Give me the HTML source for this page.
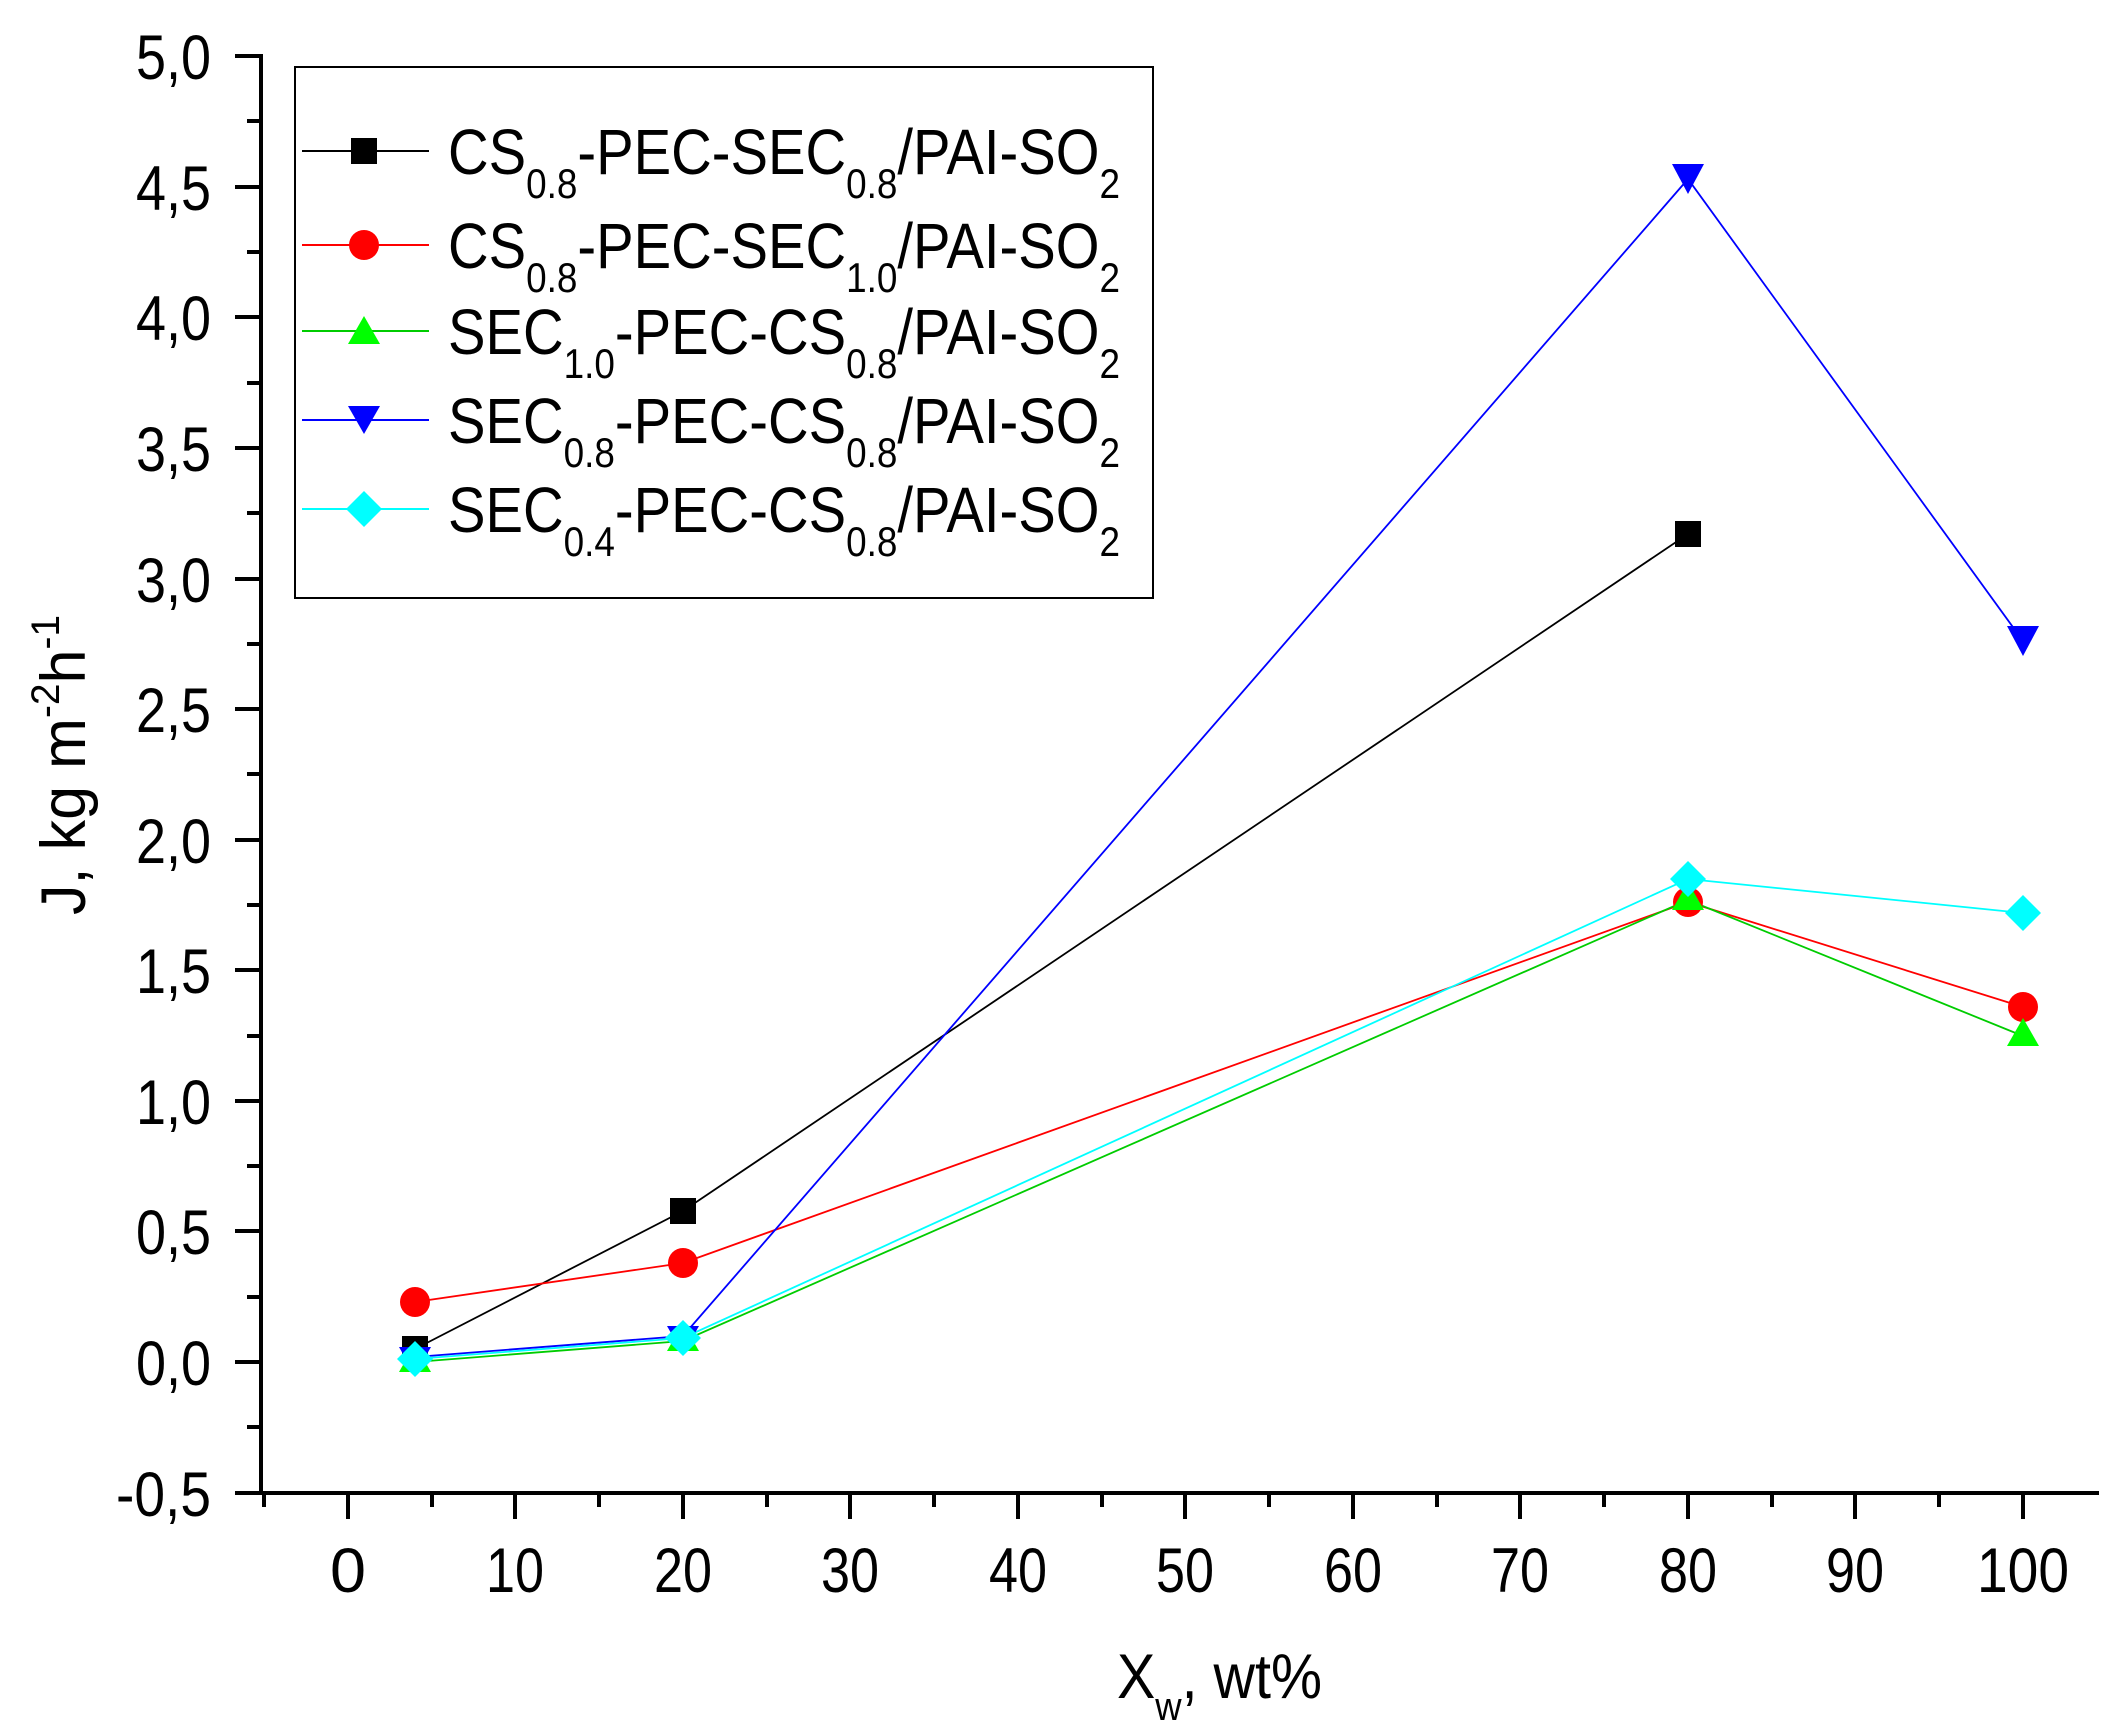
<!DOCTYPE html>
<html><head><meta charset="utf-8"><style>html,body{margin:0;padding:0;background:#fff}</style></head>
<body>
<svg width="2115" height="1731" viewBox="0 0 2115 1731" xmlns="http://www.w3.org/2000/svg" font-family="Liberation Sans, Arial, sans-serif">
<rect width="2115" height="1731" fill="#fff"/>
<g stroke="#000" stroke-width="4" fill="none">
<line x1="261" y1="54" x2="261" y2="1495"/>
<line x1="259" y1="1493" x2="2099" y2="1493"/>
<line x1="235" y1="56" x2="261" y2="56"/>
<line x1="235" y1="187" x2="261" y2="187"/>
<line x1="235" y1="317" x2="261" y2="317"/>
<line x1="235" y1="448" x2="261" y2="448"/>
<line x1="235" y1="579" x2="261" y2="579"/>
<line x1="235" y1="709" x2="261" y2="709"/>
<line x1="235" y1="840" x2="261" y2="840"/>
<line x1="235" y1="970" x2="261" y2="970"/>
<line x1="235" y1="1101" x2="261" y2="1101"/>
<line x1="235" y1="1231" x2="261" y2="1231"/>
<line x1="235" y1="1362" x2="261" y2="1362"/>
<line x1="235" y1="1493" x2="261" y2="1493"/>
<line x1="247" y1="121" x2="261" y2="121"/>
<line x1="247" y1="252" x2="261" y2="252"/>
<line x1="247" y1="383" x2="261" y2="383"/>
<line x1="247" y1="513" x2="261" y2="513"/>
<line x1="247" y1="644" x2="261" y2="644"/>
<line x1="247" y1="774" x2="261" y2="774"/>
<line x1="247" y1="905" x2="261" y2="905"/>
<line x1="247" y1="1036" x2="261" y2="1036"/>
<line x1="247" y1="1166" x2="261" y2="1166"/>
<line x1="247" y1="1297" x2="261" y2="1297"/>
<line x1="247" y1="1427" x2="261" y2="1427"/>
<line x1="348" y1="1493" x2="348" y2="1519"/>
<line x1="515" y1="1493" x2="515" y2="1519"/>
<line x1="683" y1="1493" x2="683" y2="1519"/>
<line x1="850" y1="1493" x2="850" y2="1519"/>
<line x1="1018" y1="1493" x2="1018" y2="1519"/>
<line x1="1185" y1="1493" x2="1185" y2="1519"/>
<line x1="1353" y1="1493" x2="1353" y2="1519"/>
<line x1="1520" y1="1493" x2="1520" y2="1519"/>
<line x1="1688" y1="1493" x2="1688" y2="1519"/>
<line x1="1855" y1="1493" x2="1855" y2="1519"/>
<line x1="2023" y1="1493" x2="2023" y2="1519"/>
<line x1="264" y1="1493" x2="264" y2="1507"/>
<line x1="432" y1="1493" x2="432" y2="1507"/>
<line x1="599" y1="1493" x2="599" y2="1507"/>
<line x1="767" y1="1493" x2="767" y2="1507"/>
<line x1="934" y1="1493" x2="934" y2="1507"/>
<line x1="1102" y1="1493" x2="1102" y2="1507"/>
<line x1="1269" y1="1493" x2="1269" y2="1507"/>
<line x1="1437" y1="1493" x2="1437" y2="1507"/>
<line x1="1604" y1="1493" x2="1604" y2="1507"/>
<line x1="1772" y1="1493" x2="1772" y2="1507"/>
<line x1="1939" y1="1493" x2="1939" y2="1507"/>
</g>
<g font-size="63" fill="#000">
<text x="136" y="79" textLength="75" lengthAdjust="spacingAndGlyphs">5,0</text>
<text x="136" y="210" textLength="75" lengthAdjust="spacingAndGlyphs">4,5</text>
<text x="136" y="340" textLength="75" lengthAdjust="spacingAndGlyphs">4,0</text>
<text x="136" y="471" textLength="75" lengthAdjust="spacingAndGlyphs">3,5</text>
<text x="136" y="602" textLength="75" lengthAdjust="spacingAndGlyphs">3,0</text>
<text x="136" y="732" textLength="75" lengthAdjust="spacingAndGlyphs">2,5</text>
<text x="136" y="863" textLength="75" lengthAdjust="spacingAndGlyphs">2,0</text>
<text x="136" y="993" textLength="75" lengthAdjust="spacingAndGlyphs">1,5</text>
<text x="136" y="1124" textLength="75" lengthAdjust="spacingAndGlyphs">1,0</text>
<text x="136" y="1254" textLength="75" lengthAdjust="spacingAndGlyphs">0,5</text>
<text x="136" y="1385" textLength="75" lengthAdjust="spacingAndGlyphs">0,0</text>
<text x="116" y="1516" textLength="95" lengthAdjust="spacingAndGlyphs">-0,5</text>
</g>
<g font-size="63" fill="#000">
<text x="330" y="1592" textLength="36" lengthAdjust="spacingAndGlyphs">0</text>
<text x="486" y="1592" textLength="58" lengthAdjust="spacingAndGlyphs">10</text>
<text x="654" y="1592" textLength="58" lengthAdjust="spacingAndGlyphs">20</text>
<text x="821" y="1592" textLength="58" lengthAdjust="spacingAndGlyphs">30</text>
<text x="989" y="1592" textLength="58" lengthAdjust="spacingAndGlyphs">40</text>
<text x="1156" y="1592" textLength="58" lengthAdjust="spacingAndGlyphs">50</text>
<text x="1324" y="1592" textLength="58" lengthAdjust="spacingAndGlyphs">60</text>
<text x="1491" y="1592" textLength="58" lengthAdjust="spacingAndGlyphs">70</text>
<text x="1659" y="1592" textLength="58" lengthAdjust="spacingAndGlyphs">80</text>
<text x="1826" y="1592" textLength="58" lengthAdjust="spacingAndGlyphs">90</text>
<text x="1977" y="1592" textLength="92" lengthAdjust="spacingAndGlyphs">100</text>
</g>
<text x="1117" y="1698" font-size="63" textLength="205" lengthAdjust="spacingAndGlyphs">X<tspan font-size="40" dy="22">w</tspan><tspan dy="-22">, wt%</tspan></text>
<text transform="translate(85,915) rotate(-90)" font-size="63" textLength="300" lengthAdjust="spacingAndGlyphs">J, kg m<tspan font-size="40" dy="-26">-2</tspan><tspan dy="26">h</tspan><tspan font-size="40" dy="-26">-1</tspan></text>
<g fill="none" stroke-width="1.8">
<polyline stroke="#000" points="415,1349 683,1211 1688,534"/>
<polyline stroke="#f00" points="415,1302 683,1263 1688,902 2023,1007"/>
<polyline stroke="#0c0" points="415,1362 683,1341 1688,900 2023,1036"/>
<polyline stroke="#00f" points="415,1357 683,1336 1688,179 2023,641"/>
<polyline stroke="#0ff" points="415,1359 683,1338 1688,879 2023,913"/>
</g>
<g fill="#000"><rect x="402" y="1336" width="26" height="26"/><rect x="670" y="1198" width="26" height="26"/><rect x="1675" y="521" width="26" height="26"/></g>
<g fill="#f00"><circle cx="415" cy="1302" r="15"/><circle cx="683" cy="1263" r="15"/><circle cx="1688" cy="902" r="15"/><circle cx="2023" cy="1007" r="15"/></g>
<g fill="#0f0"><polygon points="415,1344 399,1372 431,1372"/><polygon points="683,1323 667,1351 699,1351"/><polygon points="1688,882 1672,910 1704,910"/><polygon points="2023,1018 2007,1046 2039,1046"/></g>
<g fill="#00f"><polygon points="399,1347 431,1347 415,1375"/><polygon points="667,1326 699,1326 683,1354"/><polygon points="1672,164 1704,164 1688,194"/><polygon points="2007,626 2039,626 2023,656"/></g>
<g fill="#0ff"><polygon points="415,1341 433,1359 415,1377 397,1359"/><polygon points="683,1320 701,1338 683,1356 665,1338"/><polygon points="1688,861 1706,879 1688,897 1670,879"/><polygon points="2023,895 2041,913 2023,931 2005,913"/></g>
<rect x="295" y="67" width="858" height="531" fill="#fff" stroke="#000" stroke-width="2"/>
<g stroke-width="2">
<line x1="302" y1="151" x2="429" y2="151" stroke="#000"/><rect x="351" y="138" width="26" height="26" fill="#000"/>
<line x1="302" y1="245" x2="429" y2="245" stroke="#f00"/><circle cx="364" cy="245" r="15" fill="#f00"/>
<line x1="302" y1="331" x2="429" y2="331" stroke="#0c0"/><polygon points="364,316 348,344 380,344" fill="#0f0"/>
<line x1="302" y1="420" x2="429" y2="420" stroke="#00f"/><polygon points="348,406 380,406 364,434" fill="#00f"/>
<line x1="302" y1="509" x2="429" y2="509" stroke="#0ff"/><polygon points="364,491 382,509 364,527 346,509" fill="#0ff"/>
</g>
<g font-size="64" fill="#000">
<text x="448" y="174" textLength="672" lengthAdjust="spacingAndGlyphs">CS<tspan font-size="42" dy="24">0.8</tspan><tspan dy="-24">-PEC-SEC</tspan><tspan font-size="42" dy="24">0.8</tspan><tspan dy="-24">/PAI-SO</tspan><tspan font-size="42" dy="24">2</tspan></text>
<text x="448" y="268" textLength="672" lengthAdjust="spacingAndGlyphs">CS<tspan font-size="42" dy="24">0.8</tspan><tspan dy="-24">-PEC-SEC</tspan><tspan font-size="42" dy="24">1.0</tspan><tspan dy="-24">/PAI-SO</tspan><tspan font-size="42" dy="24">2</tspan></text>
<text x="448" y="354" textLength="672" lengthAdjust="spacingAndGlyphs">SEC<tspan font-size="42" dy="24">1.0</tspan><tspan dy="-24">-PEC-CS</tspan><tspan font-size="42" dy="24">0.8</tspan><tspan dy="-24">/PAI-SO</tspan><tspan font-size="42" dy="24">2</tspan></text>
<text x="448" y="443" textLength="672" lengthAdjust="spacingAndGlyphs">SEC<tspan font-size="42" dy="24">0.8</tspan><tspan dy="-24">-PEC-CS</tspan><tspan font-size="42" dy="24">0.8</tspan><tspan dy="-24">/PAI-SO</tspan><tspan font-size="42" dy="24">2</tspan></text>
<text x="448" y="532" textLength="672" lengthAdjust="spacingAndGlyphs">SEC<tspan font-size="42" dy="24">0.4</tspan><tspan dy="-24">-PEC-CS</tspan><tspan font-size="42" dy="24">0.8</tspan><tspan dy="-24">/PAI-SO</tspan><tspan font-size="42" dy="24">2</tspan></text>
</g>
</svg>
</body></html>
